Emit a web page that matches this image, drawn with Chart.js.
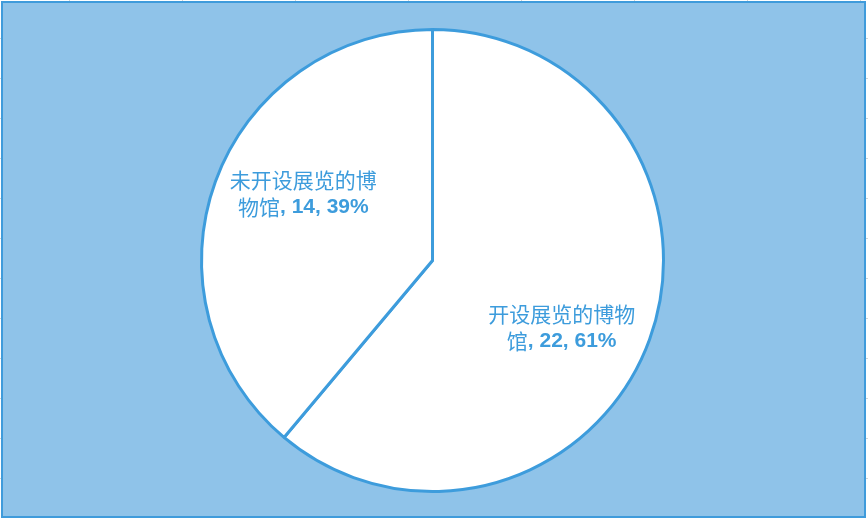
<!DOCTYPE html>
<html lang="zh">
<head>
    <meta charset="UTF-8">
    <title>博物馆展览</title>
    <script src="https://cdn.jsdelivr.net/npm/chart.js"></script>
    <style>
      html, body { margin: 0; padding: 0; }
      body {
        width: 868px; height: 518px; overflow: hidden;
        background-color: #fff;
        background-image:
          repeating-linear-gradient(90deg, transparent 0 69px, #d4d4d4 69px 70px, transparent 70px 113px),
          repeating-linear-gradient(0deg, transparent 0 39px, #d4d4d4 39px 40px);
      }
      #box {
        position: absolute; left: 1px; top: 1px;
        width: 861px; height: 513px;
        border: 2px solid #3f9bdb;
        background: #8fc3e9;
      }
    </style>
</head>
<body>
  <div id="box">
    <canvas id="pie" width="861" height="513"></canvas>
  </div>
  <script>
    var labels = ["开设展览的博物馆", "未开设展览的博物馆"];
    var counts = [22, 14];
    var percents = ["61%", "39%"];

    var lineBlue = "#3d9cdc";

    // draws "name, n, p%" inside each slice, name regular and numbers bold
    var sliceLabels = {
      id: "sliceLabels",
      afterDatasetsDraw: function (chart) {
        var c = chart.ctx;
        var arcs = chart.getDatasetMeta(0).data;
        c.save();
        c.fillStyle = lineBlue;
        c.textBaseline = "middle";
        arcs.forEach(function (arc, i) {
          var p = arc.getProps(["x", "y", "startAngle", "endAngle", "outerRadius"], true);
          var mid = (p.startAngle + p.endAngle) / 2 + 0.13;
          var d = p.outerRadius * 0.63;
          var cx = p.x + Math.cos(mid) * d;
          var cy = p.y + Math.sin(mid) * d;
          var name = labels[i];
          var first = name.slice(0, 7);
          var rest = name.slice(7);
          var tail = ", " + counts[i] + ", " + percents[i];
          var regular = "21px 'Noto Sans CJK SC', sans-serif";
          var bold = "bold 21px 'Liberation Sans', Arial, sans-serif";

          c.font = regular;
          c.textAlign = "center";
          c.fillText(first, cx, cy - 13.5);

          var w1 = c.measureText(rest).width;
          c.font = bold;
          var w2 = c.measureText(tail).width;
          var x0 = cx - (w1 + w2) / 2;
          c.textAlign = "left";
          c.font = regular;
          c.fillText(rest, x0, cy + 13.5);
          c.font = bold;
          c.fillText(tail, x0 + w1, cy + 14);
        });
        c.restore();
      }
    };

    new Chart(document.getElementById("pie"), {
      type: "pie",
      data: {
        labels: labels,
        datasets: [{
          data: counts,
          backgroundColor: "#ffffff",
          borderColor: lineBlue,
          borderWidth: 3,
          hoverOffset: 0
        }]
      },
      options: {
        responsive: false,
        animation: false,
        layout: { padding: { top: 25, bottom: 23, left: 0, right: 2 } },
        plugins: {
          legend: { display: false },
          tooltip: { enabled: false }
        }
      },
      plugins: [sliceLabels]
    });
  </script>
</body>
</html>
